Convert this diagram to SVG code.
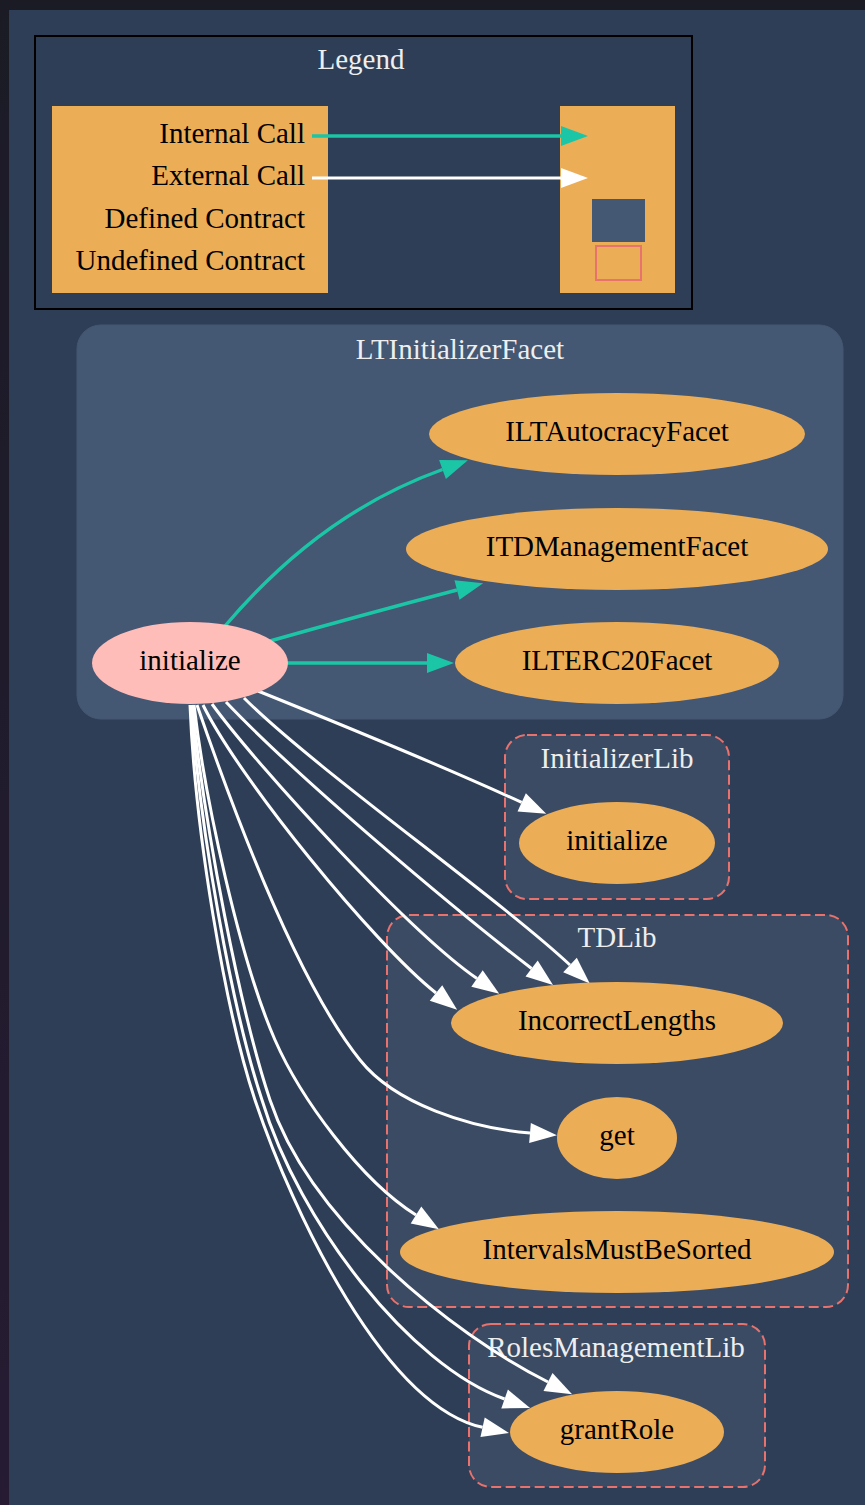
<svg xmlns="http://www.w3.org/2000/svg" width="865" height="1505" viewBox="0 0 865 1505">
  <style>
    text { font-family: "Liberation Serif", "Times New Roman", serif; font-size: 29px; }
    .label { fill: #eeeeee; text-anchor: middle; }
    .ntext { fill: #000000; text-anchor: middle; }
    .ltext { fill: #000000; text-anchor: end; }
    .facet { fill: #445773; stroke: #445773; stroke-width: 1; }
    .lib { fill: #3b4b64; stroke: #e8726d; stroke-width: 2; stroke-dasharray: 10 4.5; }
    .node { fill: #ecad57; }
    .entry { fill: #ffbdb9; }
    .internal { fill: none; stroke: #1bc6a6; stroke-width: 3.4; marker-end: url(#arrow-green); }
    .external { fill: none; stroke: #ffffff; stroke-width: 3; marker-end: url(#arrow-white); }
  </style>
  <defs>
    <linearGradient id="page" x1="0" y1="0" x2="0" y2="1">
      <stop offset="0" stop-color="#1b1b26"/>
      <stop offset="1" stop-color="#261b33"/>
    </linearGradient>
    <marker id="arrow-green" markerUnits="userSpaceOnUse" orient="auto" refX="0" refY="0" markerWidth="28" markerHeight="20" overflow="visible">
      <path d="M0,-10 L27,0 L0,10 Z" fill="#1bc6a6"/>
    </marker>
    <marker id="arrow-white" markerUnits="userSpaceOnUse" orient="auto" refX="0" refY="0" markerWidth="28" markerHeight="20" overflow="visible">
      <path d="M0,-10 L27,0 L0,10 Z" fill="#ffffff"/>
    </marker>
  </defs>

  <!-- page and canvas -->
  <rect x="0" y="0" width="865" height="1505" fill="url(#page)"/>
  <rect x="9" y="10" width="856" height="1495" fill="#2e3e56"/>

  <!-- legend -->
  <g id="legend">
    <rect x="35" y="36" width="657" height="273" fill="#2e3e56" stroke="#000000" stroke-width="2"/>
    <text class="label" x="361" y="69" fill="#ffffff">Legend</text>
    <rect x="52" y="106" width="276" height="187" fill="#ecad57"/>
    <rect x="560" y="106" width="115" height="187" fill="#ecad57"/>
    <text class="ltext" x="305" y="143">Internal Call</text>
    <text class="ltext" x="305" y="185">External Call</text>
    <text class="ltext" x="305" y="228">Defined Contract</text>
    <text class="ltext" x="305" y="270">Undefined Contract</text>
    <path class="internal" d="M312,136 L561,136"/>
    <path class="external" d="M312,178 L561,178"/>
    <rect x="592" y="199" width="53" height="43" fill="#445773"/>
    <rect x="596" y="246" width="45" height="34" fill="none" stroke="#e8726d" stroke-width="2"/>
  </g>

  <!-- clusters -->
  <g id="cluster-LTInitializerFacet">
    <rect class="facet" x="77" y="325" width="766" height="394" rx="24" ry="24"/>
    <text class="label" x="460" y="359">LTInitializerFacet</text>
  </g>
  <g id="cluster-InitializerLib">
    <rect class="lib" x="505" y="735" width="224" height="164" rx="22" ry="22"/>
    <text class="label" x="617" y="768">InitializerLib</text>
  </g>
  <g id="cluster-TDLib">
    <rect class="lib" x="387" y="915" width="461" height="392" rx="22" ry="22"/>
    <text class="label" x="617" y="947">TDLib</text>
  </g>
  <g id="cluster-RolesManagementLib">
    <rect class="lib" x="469" y="1324" width="296" height="163" rx="22" ry="22"/>
    <text class="label" x="616" y="1357">RolesManagementLib</text>
  </g>

  <!-- connectors -->
  <g id="connectors">
    <!-- internal calls -->
    <path class="internal" d="M225,626 C260,585 330,510 442.5,469.5"/>
    <path class="internal" d="M270,641 C330,624 400,605 457,590"/>
    <path class="internal" d="M287,663 L427,663"/>
    <!-- external calls -->
    <path class="external" d="M258,691 C340,724 440,765 521.7,802.4"/>
    <path class="external" d="M244,698 C314,768 497,897 570,965"/>
    <path class="external" d="M226,702 C300,780 460,913.6 531.6,968.5"/>
    <path class="external" d="M212,704 C260,770 411,933 477,978.5"/>
    <path class="external" d="M203,705 C240,780 373.6,943.4 436,993"/>
    <path class="external" d="M197,705 C240,830 300,985 360,1060 C395,1104 470,1128 530,1133"/>
    <path class="external" d="M194,705 C205,800 240,960 275,1040 C300,1097 360,1180 416,1215"/>
    <path class="external" d="M192,705 C205,830 240,1010 270,1100 C310,1220 450,1332.5 548,1382"/>
    <path class="external" d="M191,705 C200,830 232,1010 262,1100 C299,1223 410.6,1366 504.6,1399"/>
    <path class="external" d="M190,705 C195,830 225,1010 255,1100 C293,1214 385,1406 482.6,1427.3"/>
  </g>

  <!-- nodes -->
  <g id="node-LTInitializerFacet-initialize">
    <ellipse class="entry" cx="190" cy="663" rx="98" ry="41"/>
    <text class="ntext" x="190" y="670">initialize</text>
  </g>
  <g id="node-ILTAutocracyFacet">
    <ellipse class="node" cx="617" cy="434" rx="188" ry="41"/>
    <text class="ntext" x="617" y="441">ILTAutocracyFacet</text>
  </g>
  <g id="node-ITDManagementFacet">
    <ellipse class="node" cx="617" cy="549" rx="211" ry="41"/>
    <text class="ntext" x="617" y="556">ITDManagementFacet</text>
  </g>
  <g id="node-ILTERC20Facet">
    <ellipse class="node" cx="617" cy="663" rx="162" ry="41"/>
    <text class="ntext" x="617" y="670">ILTERC20Facet</text>
  </g>
  <g id="node-InitializerLib-initialize">
    <ellipse class="node" cx="617" cy="843" rx="98" ry="41"/>
    <text class="ntext" x="617" y="850">initialize</text>
  </g>
  <g id="node-IncorrectLengths">
    <ellipse class="node" cx="617" cy="1023" rx="166" ry="41"/>
    <text class="ntext" x="617" y="1030">IncorrectLengths</text>
  </g>
  <g id="node-get">
    <ellipse class="node" cx="617" cy="1138" rx="60" ry="41"/>
    <text class="ntext" x="617" y="1145">get</text>
  </g>
  <g id="node-IntervalsMustBeSorted">
    <ellipse class="node" cx="617" cy="1252" rx="217" ry="41"/>
    <text class="ntext" x="617" y="1259">IntervalsMustBeSorted</text>
  </g>
  <g id="node-grantRole">
    <ellipse class="node" cx="617" cy="1432" rx="107" ry="41"/>
    <text class="ntext" x="617" y="1439">grantRole</text>
  </g>
</svg>
